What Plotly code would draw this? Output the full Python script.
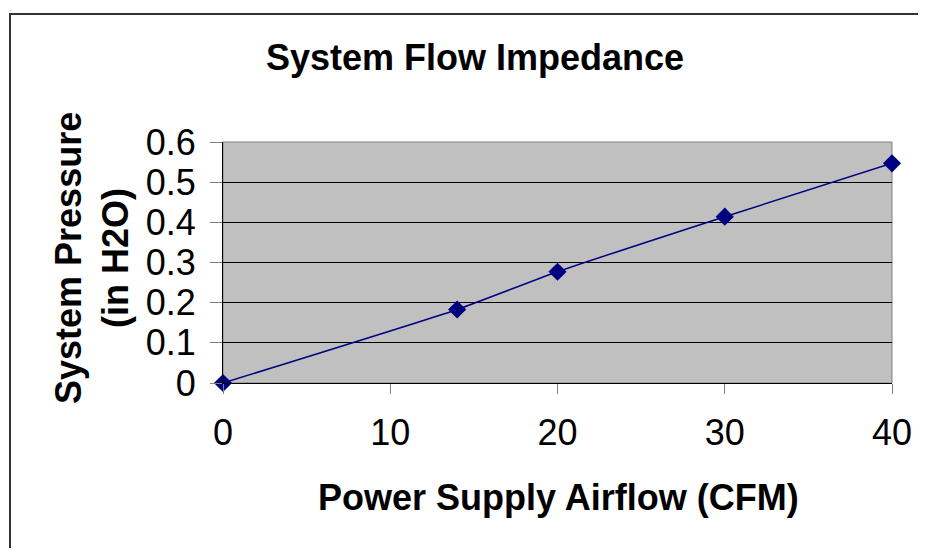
import plotly.graph_objects as go

airflow = [0, 14, 20, 30, 40]
pressure = [0, 0.183, 0.277, 0.414, 0.547]
x_ticks = [0, 10, 20, 30, 40]
y_ticks = [0, 0.1, 0.2, 0.3, 0.4, 0.5, 0.6]
y_tick_labels = ["0", "0.1", "0.2", "0.3", "0.4", "0.5", "0.6"]

OFF = 8  # page body margin
W, H = 926 - OFF, 556 - 2 * OFF
L, T = 223 - OFF, 142 - OFF
R = W - (892 - OFF)
B = H - (383 - OFF)
pw, ph = W - L - R, H - T - B

def px(x):
    # screen x -> paper
    return (x - OFF - L) / pw

def py(y):
    # screen y -> paper
    return (H - B - (y - OFF)) / ph

font = "Liberation Sans, Arial, sans-serif"

fig = go.Figure()
fig.add_trace(go.Scatter(
    x=airflow, y=pressure, mode="lines+markers",
    line=dict(color="#000080", width=1.5, shape="spline", smoothing=0.5),
    marker=dict(symbol="diamond", size=14, color="#000080"),
    cliponaxis=False, showlegend=False,
))

fig.update_layout(
    width=W, height=H,
    margin=dict(l=L, r=R, t=T, b=B, pad=0),
    paper_bgcolor="white", plot_bgcolor="#C0C0C0",
    font=dict(family=font, color="black"),
    xaxis=dict(range=[0, 40], tickvals=x_ticks, ticks="outside", ticklen=10,
               tickcolor="#808080", showgrid=False, zeroline=False,
               showline=True, linecolor="black", linewidth=1,
               tickfont=dict(size=36), ticklabelstandoff=8),
    yaxis=dict(range=[0, 0.6], tickvals=y_ticks, ticktext=y_tick_labels,
               ticks="outside", ticklen=12, tickcolor="#808080",
               showgrid=True, gridcolor="black", gridwidth=1, zeroline=False,
               showline=True, linecolor="black", linewidth=1,
               tickfont=dict(size=36), ticklabelstandoff=7),
    shapes=[
        dict(type="rect", xref="paper", yref="paper", x0=0, x1=1, y0=0, y1=1,
             line=dict(color="#808080", width=1), layer="below"),
        dict(type="line", xref="paper", yref="paper",
             x0=px(10), x1=px(10), y0=py(600), y1=py(14),
             line=dict(color="#333333", width=2)),
        dict(type="line", xref="paper", yref="paper",
             x0=px(9), x1=px(926), y0=py(14), y1=py(14),
             line=dict(color="#333333", width=2)),
    ],
    annotations=[
        dict(text="<b>System Flow Impedance</b>", xref="paper", yref="paper",
             x=px(475), y=py(58), showarrow=False, font=dict(size=36),
             xanchor="center", yanchor="middle"),
        dict(text="<b>Power Supply Airflow (CFM)</b>", xref="paper", yref="paper",
             x=px(558), y=py(497), showarrow=False, font=dict(size=36),
             xanchor="center", yanchor="middle"),
        dict(text="<b>System Pressure<br>(in H2O)</b>", xref="paper", yref="paper",
             x=px(92), y=py(258), showarrow=False, font=dict(size=36),
             textangle=-90, xanchor="center", yanchor="middle"),
    ],
)

fig.write_html("out.html")
